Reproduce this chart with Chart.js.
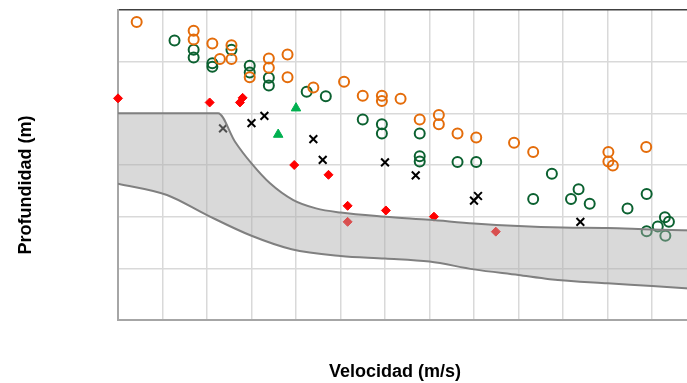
<!DOCTYPE html>
<html>
<head>
<meta charset="utf-8">
<script src="https://cdn.jsdelivr.net/npm/chart.js@4/dist/chart.umd.min.js"></script>
<style>
  html, body { margin: 0; padding: 0; background: #ffffff; overflow: hidden; }
  #wrap { width: 704px; height: 383px; }
</style>
</head>
<body>
<div id="wrap"><canvas id="c" width="704" height="383"></canvas></div>
<script>
// Axis titles
const xTitle = 'Velocidad (m/s)';
const yTitle = 'Profundidad (m)';

// Axis ranges (grid units; no tick labels shown in the original)
const xMin = 0, xMax = 13, xStep = 1;
const yMin = 0, yMax = 6, yStep = 1;

// Series: [velocidad, profundidad]
const serieNaranja = [
  [0.42,0.23],[1.70,0.40],[1.70,0.57],[2.12,0.65],[2.55,0.68],[2.29,0.95],[2.55,0.95],
  [2.96,1.30],[3.39,0.94],[3.39,1.12],[3.81,0.86],[3.81,1.30],[4.39,1.50],[5.08,1.39],
  [5.50,1.66],[5.93,1.66],[5.93,1.76],[6.35,1.72],[6.78,2.12],[7.21,2.03],[7.21,2.21],
  [7.63,2.39],[8.05,2.47],[8.90,2.57],[9.33,2.75],[11.02,2.75],[11.02,2.93],[11.12,3.01],
  [11.87,2.65]
];
const serieVerde = [
  [1.27,0.59],[1.70,0.77],[1.70,0.92],[2.12,1.03],[2.12,1.10],[2.55,0.77],[2.96,1.08],
  [2.96,1.21],[3.39,1.31],[3.39,1.46],[4.24,1.58],[4.67,1.67],[5.50,2.12],[5.93,2.21],
  [5.93,2.39],[6.78,2.39],[6.78,2.83],[6.78,2.93],[7.63,2.94],[8.05,2.94],[9.75,3.17],
  [9.33,3.66],[10.18,3.66],[10.35,3.47],[10.60,3.75],[11.45,3.84],[11.88,3.56],[12.29,4.01],
  [12.38,4.10],[12.13,4.19],[11.88,4.28],[12.30,4.37]
];
const serieRombos = [
  [0,1.71],[2.06,1.79],[2.80,1.70],[2.74,1.79],[3.96,3.00],[4.73,3.19],[5.16,3.79],
  [5.16,4.10],[6.02,3.88],[7.10,4.00],[8.49,4.29]
];
const serieCruces = [
  [2.36,2.29],[3.00,2.19],[3.29,2.05],[4.39,2.50],[4.60,2.90],[6.00,2.95],[6.69,3.20],
  [8.00,3.69],[8.09,3.60],[10.39,4.10]
];
const serieTriangulos = [[4.00,1.90],[3.60,2.41]];

// Band limits
const bandaSuperior = [
  [0,2.00],[2.25,2.00],[2.63,2.55],[3.00,2.97],[3.41,3.35],[3.94,3.68],[4.45,3.84],[5.00,3.92],
  [6,4.00],[7,4.06],[8,4.13],[9,4.18],[10,4.21],[11,4.22],[12,4.25],[13,4.27]
];
const bandaInferior = [
  [0,3.36],[1.10,3.58],[2.00,3.97],[3.00,4.37],[3.90,4.63],[5.00,4.76],[6,4.81],[7,4.87],
  [8,5.02],[9,5.13],[9.70,5.21],[11,5.29],[12,5.34],[13,5.40]
];

const toPts = arr => arr.map(p => ({x: p[0], y: p[1]}));

const titlePlugin = {
  id: 'axisTitles',
  afterDraw(chart) {
    const ctx = chart.ctx;
    ctx.save();
    ctx.fillStyle = '#000000';
    ctx.font = 'bold 18px "Liberation Sans", Arial, sans-serif';
    ctx.textAlign = 'center';
    ctx.textBaseline = 'middle';
    ctx.fillText(xTitle, 395, 372);
    ctx.translate(26, 185);
    ctx.rotate(-Math.PI / 2);
    ctx.fillText(yTitle, 0, 0);
    ctx.restore();
  }
};

const pointBase = { showLine: false, clip: false };

new Chart(document.getElementById('c'), {
  type: 'scatter',
  data: {
    datasets: [
      {
        data: toPts(bandaSuperior), showLine: true, fill: '+1',
        backgroundColor: 'rgba(173,173,173,0.46)', borderColor: '#808080', borderWidth: 2,
        pointRadius: 0, cubicInterpolationMode: 'monotone', order: 1
      },
      {
        data: toPts(bandaInferior), showLine: true, fill: false,
        borderColor: '#808080', borderWidth: 2,
        pointRadius: 0, cubicInterpolationMode: 'monotone', order: 0
      },
      Object.assign({}, pointBase, {
        data: toPts(serieNaranja), pointStyle: 'circle', pointRadius: 5,
        borderColor: '#E46C0A', backgroundColor: 'rgba(0,0,0,0)', borderWidth: 2, order: 5
      }),
      Object.assign({}, pointBase, {
        data: toPts(serieVerde), pointStyle: 'circle', pointRadius: 5,
        borderColor: '#0B6130', backgroundColor: 'rgba(0,0,0,0)', borderWidth: 2, order: 5
      }),
      Object.assign({}, pointBase, {
        data: toPts(serieRombos), pointStyle: 'rectRot', pointRadius: 4.5,
        borderColor: '#FF0000', backgroundColor: '#FF0000', borderWidth: 1, order: 4
      }),
      Object.assign({}, pointBase, {
        data: toPts(serieCruces), pointStyle: 'crossRot', pointRadius: 5.5,
        borderColor: '#000000', borderWidth: 2, order: 4
      }),
      Object.assign({}, pointBase, {
        data: toPts(serieTriangulos), pointStyle: 'triangle', pointRadius: 5.5,
        borderColor: '#00B050', backgroundColor: '#00B050', borderWidth: 1, order: 4
      })
    ]
  },
  options: {
    responsive: false,
    animation: false,
    layout: { padding: { left: 118, top: 10, right: 1, bottom: 63 } },
    plugins: { legend: { display: false }, tooltip: { enabled: false } },
    scales: {
      x: {
        type: 'linear', min: xMin, max: xMax,
        ticks: { display: false, stepSize: xStep },
        grid: { color: '#d9d9d9', lineWidth: 1.5, drawTicks: false },
        border: { color: '#a6a6a6', width: 2 },
        title: { display: false }
      },
      y: {
        type: 'linear', min: yMin, max: yMax, reverse: true,
        ticks: { display: false, stepSize: yStep },
        grid: {
          color: c => (c.tick && c.tick.value === yMin) ? '#404040' : '#d9d9d9',
          lineWidth: 1.5,
          drawTicks: false
        },
        border: { color: '#a6a6a6', width: 2 },
        title: { display: false }
      }
    }
  },
  plugins: [titlePlugin]
});
</script>
</body>
</html>
